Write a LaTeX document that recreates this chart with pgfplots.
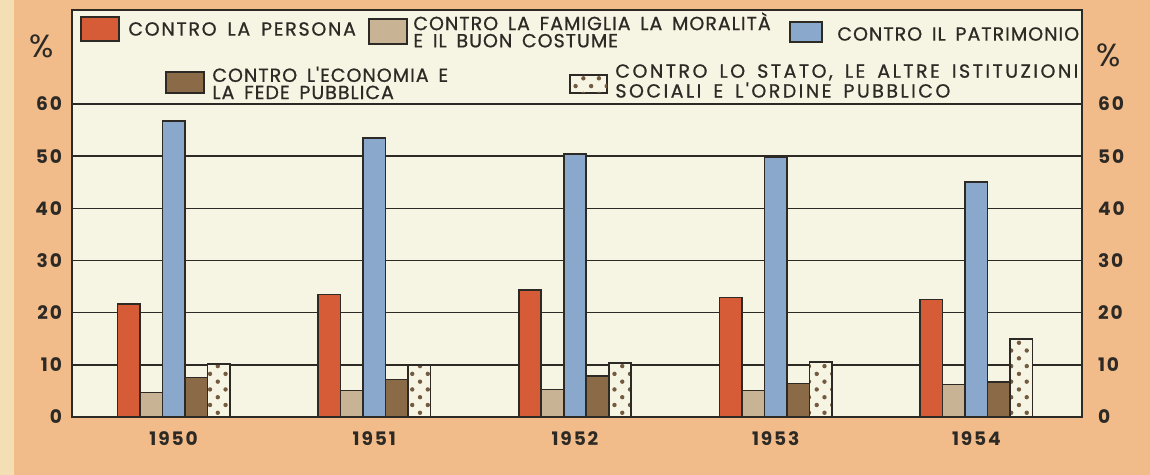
\documentclass[border=0pt]{standalone}
\usepackage{pgfplots}
\pgfplotsset{compat=1.18}
\usepackage{fontspec}
\setmainfont{Poppins}
\newfontfamily\legfont[LetterSpace=5.3, WordSpace=1.6, FakeBold=0.8]{Poppins}
\newfontfamily\legfontA[LetterSpace=9, WordSpace=1.6, FakeBold=0.8]{Poppins}
\newfontfamily\legfontB[LetterSpace=13, WordSpace=1.6, FakeBold=0.8]{Poppins}
\newfontfamily\tickfont[LetterSpace=10]{Poppins}
\usetikzlibrary{patterns.meta}
\definecolor{peach}{RGB}{242,188,138}
\definecolor{lightstrip}{RGB}{244,222,180}
\definecolor{cream}{RGB}{246,244,226}
\definecolor{dark}{RGB}{45,42,38}
\definecolor{cred}{RGB}{214,92,56}
\definecolor{cbeige}{RGB}{200,180,148}
\definecolor{cblue}{RGB}{138,168,204}
\definecolor{cbrown}{RGB}{139,106,72}
\definecolor{cdot}{RGB}{115,90,65}
\begin{document}
\begin{tikzpicture}[x=1pt,y=1pt]
\useasboundingbox (0,0) rectangle (575,237.5);
\fill[peach] (0,0) rectangle (575,237.5);
\fill[lightstrip] (0,0) rectangle (7,237.5);
\begin{axis}[
  at={(36pt,29pt)}, anchor=south west,
  scale only axis, width=505pt, height=203.5pt,
  xmin=-0.506, xmax=4.526, ymin=0, ymax=78,
  axis background/.style={fill=cream},
  ybar=0pt, bar width=11.25pt,
  xtick={0,1,2,3,4}, xticklabels={1950,1951,1952,1953,1954},
  ytick={0,10,20,30,40,50,60},
  /pgf/number format/assume math mode=true,
  ymajorgrids, grid style={line width=0.75pt, draw=dark},
  major tick length=0pt,
  axis line style={line width=1pt, draw=dark},
  tick label style={font=\tickfont\bfseries\fontsize{9.3}{11}\selectfont, text=dark},
  yticklabel style={xshift=-1.5pt},
  xticklabel style={yshift=-4pt},
]
\addplot[fill=cred, draw=dark, line width=0.8pt] coordinates {(0,21.6) (1,23.5) (2,24.3) (3,22.9) (4,22.5)};
\addplot[fill=cbeige, draw=dark, line width=0.8pt] coordinates {(0,4.7) (1,5.1) (2,5.3) (3,5.1) (4,6.2)};
\addplot[fill=cblue, draw=dark, line width=0.8pt] coordinates {(0,56.7) (1,53.5) (2,50.4) (3,49.8) (4,45.0)};
\addplot[fill=cbrown, draw=dark, line width=0.8pt] coordinates {(0,7.6) (1,7.2) (2,7.9) (3,6.4) (4,6.7)};
\addplot[fill=cream, draw=dark, line width=0.8pt, postaction={pattern color=cdot, pattern={Dots[distance=5.5pt, radius=1.1pt, angle=45]}}] coordinates {(0,10.1) (1,9.9) (2,10.4) (3,10.5) (4,14.9)};
\end{axis}
\begin{axis}[
  at={(36pt,29pt)}, anchor=south west,
  scale only axis, width=505pt, height=203.5pt,
  xmin=-0.506, xmax=4.526, ymin=0, ymax=78,
  xtick=\empty, ytick={0,10,20,30,40,50,60},
  /pgf/number format/assume math mode=true,
  yticklabel pos=right,
  major tick length=0pt,
  axis line style={draw=none},
  tick label style={font=\tickfont\bfseries\fontsize{9.3}{11}\selectfont, text=dark},
  yticklabel style={xshift=4.5pt},
]
\end{axis}
% legend
\begin{scope}[every node/.style={text=dark, inner sep=0pt, font=\legfont\fontsize{9.5}{8.6}\selectfont, align=left, anchor=west}]
\draw[fill=cred, draw=dark, line width=0.8pt] (40.5,217) rectangle (59.5,229);
\node[font=\legfontA\fontsize{9.5}{8.6}\selectfont] at (64,223) {CONTRO LA PERSONA};
\draw[fill=cbeige, draw=dark, line width=0.8pt] (184.5,215.5) rectangle (203.5,228);
\node at (206.5,222.5) {CONTRO LA FAMIGLIA LA MORALITÀ\\E IL BUON COSTUME};
\draw[fill=cblue, draw=dark, line width=0.8pt] (395,216.5) rectangle (411,226.5);
\node at (418.5,220.5) {CONTRO IL PATRIMONIO};
\draw[fill=cbrown, draw=dark, line width=0.8pt] (83,191) rectangle (102,201.5);
\node at (106,196) {CONTRO L'ECONOMIA E\\LA FEDE PUBBLICA};
\draw[fill=cream, draw=dark, line width=0.8pt, postaction={pattern color=cdot, pattern={Dots[distance=5.5pt, radius=1.1pt, angle=45]}}] (285,191) rectangle (303.5,200);
\node[font=\legfontB\fontsize{9.5}{8.6}\selectfont] at (307.5,197) {CONTRO LO STATO, LE ALTRE ISTITUZIONI\\SOCIALI E L'ORDINE PUBBLICO};
\end{scope}
\node[text=dark, font=\fontsize{16}{16}\selectfont, inner sep=0pt] at (21,214.5) {\%};
\node[text=dark, font=\fontsize{16}{16}\selectfont, inner sep=0pt] at (554.5,210) {\%};
\end{tikzpicture}
\end{document}
